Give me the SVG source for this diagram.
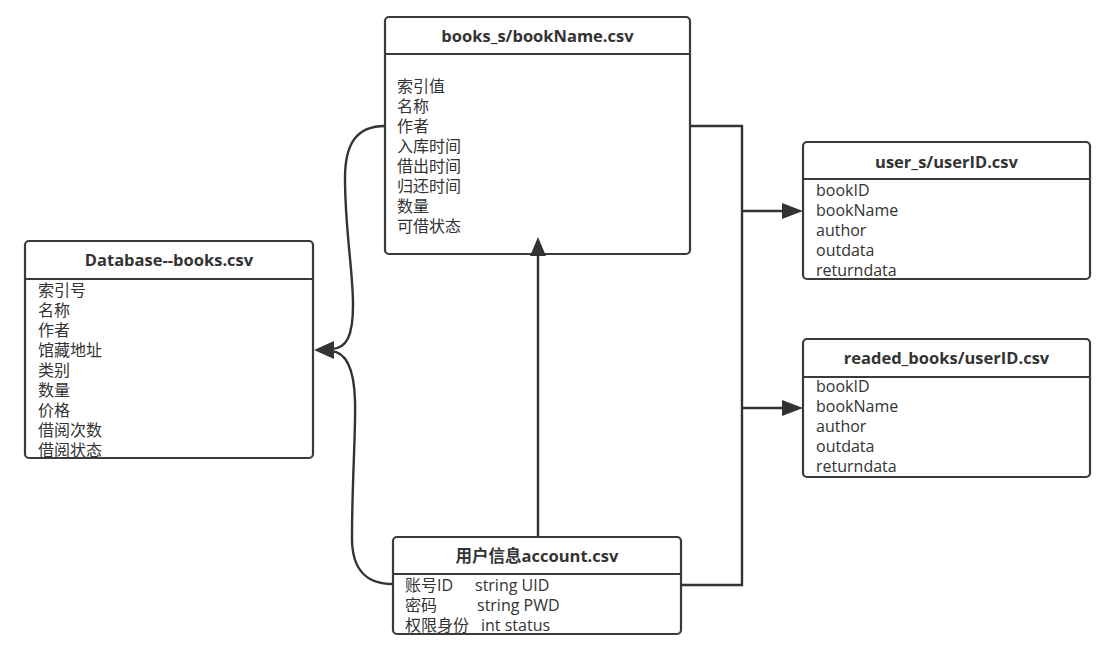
<svg xmlns="http://www.w3.org/2000/svg" width="1113" height="669" viewBox="0 0 1113 669">
<style>
.box{fill:#fff;stroke:#3a3a3a;stroke-width:2.2}
.sep{stroke:#3a3a3a;stroke-width:2.2}
.title{font-family:"Open Sans","Noto Sans CJK SC",sans-serif;font-size:16.5px;font-weight:bold;fill:#333;text-anchor:middle}
.field{font-family:"Open Sans","Noto Sans CJK SC",sans-serif;font-size:16px;fill:#333}
.conn{fill:none;stroke:#333;stroke-width:2.4}
.head{fill:#333}
</style>
<rect width="1113" height="669" fill="#fff"/>
<g id="books_s">
<rect class="box" x="385" y="17" width="305" height="237" rx="4"/>
<line class="sep" x1="385" y1="54" x2="690" y2="54"/>
<text class="title" x="537.5" y="42">books_s/bookName.csv</text>
<text class="field" x="397" y="92">索引值</text>
<text class="field" x="397" y="112">名称</text>
<text class="field" x="397" y="132">作者</text>
<text class="field" x="397" y="152">入库时间</text>
<text class="field" x="397" y="172">借出时间</text>
<text class="field" x="397" y="192">归还时间</text>
<text class="field" x="397" y="212">数量</text>
<text class="field" x="397" y="232">可借状态</text>
</g>
<g id="database">
<rect class="box" x="25" y="241" width="288" height="217" rx="4"/>
<line class="sep" x1="25" y1="279" x2="313" y2="279"/>
<text class="title" x="169" y="266">Database--books.csv</text>
<text class="field" x="38" y="296">索引号</text>
<text class="field" x="38" y="316">名称</text>
<text class="field" x="38" y="336">作者</text>
<text class="field" x="38" y="356">馆藏地址</text>
<text class="field" x="38" y="376">类别</text>
<text class="field" x="38" y="396">数量</text>
<text class="field" x="38" y="416">价格</text>
<text class="field" x="38" y="436">借阅次数</text>
<text class="field" x="38" y="456">借阅状态</text>
</g>
<g id="account">
<rect class="box" x="393" y="537" width="288" height="97" rx="4"/>
<line class="sep" x1="393" y1="574" x2="681" y2="574"/>
<text class="title" x="537" y="562">用户信息account.csv</text>
<text class="field" x="405" y="591">账号ID</text>
<text class="field" x="475" y="591">string UID</text>
<text class="field" x="405" y="611">密码</text>
<text class="field" x="477" y="611">string PWD</text>
<text class="field" x="405" y="631">权限身份</text>
<text class="field" x="481" y="631">int status</text>
</g>
<g id="user_s">
<rect class="box" x="803" y="142" width="287" height="137" rx="4"/>
<line class="sep" x1="803" y1="179" x2="1090" y2="179"/>
<text class="title" x="946.5" y="168">user_s/userID.csv</text>
<text class="field" x="816" y="196">bookID</text>
<text class="field" x="816" y="216">bookName</text>
<text class="field" x="816" y="236">author</text>
<text class="field" x="816" y="256">outdata</text>
<text class="field" x="816" y="276">returndata</text>
</g>
<g id="readed_books">
<rect class="box" x="803" y="339" width="287" height="138" rx="4"/>
<line class="sep" x1="803" y1="377" x2="1090" y2="377"/>
<text class="title" x="946.5" y="364">readed_books/userID.csv</text>
<text class="field" x="816" y="392">bookID</text>
<text class="field" x="816" y="412">bookName</text>
<text class="field" x="816" y="432">author</text>
<text class="field" x="816" y="452">outdata</text>
<text class="field" x="816" y="472">returndata</text>
</g>
<g id="connectors">
<path class="conn" d="M690,126 L742,126 L742,585 L681,585"/>
<path class="conn" d="M742,211 L784,211"/>
<polygon class="head" points="803,211 782,203 782,219"/>
<path class="conn" d="M742,408 L784,408"/>
<polygon class="head" points="803,408 782,400 782,416"/>
<path class="conn" d="M538,537 L538,252"/>
<polygon class="head" points="538,237 530,256 546,256"/>
<path class="conn" d="M385,126 C357,126 345,143 345,178 C345,230 353,270 353,305 C353,335 347,349 331,349"/>
<path class="conn" d="M393,584 C366,584 352,570 352,538 C352,480 356,430 355,400 C354,370 346,352 331,351"/>
<polygon class="head" points="314,350 334,341 334,359"/>
</g>
</svg>
